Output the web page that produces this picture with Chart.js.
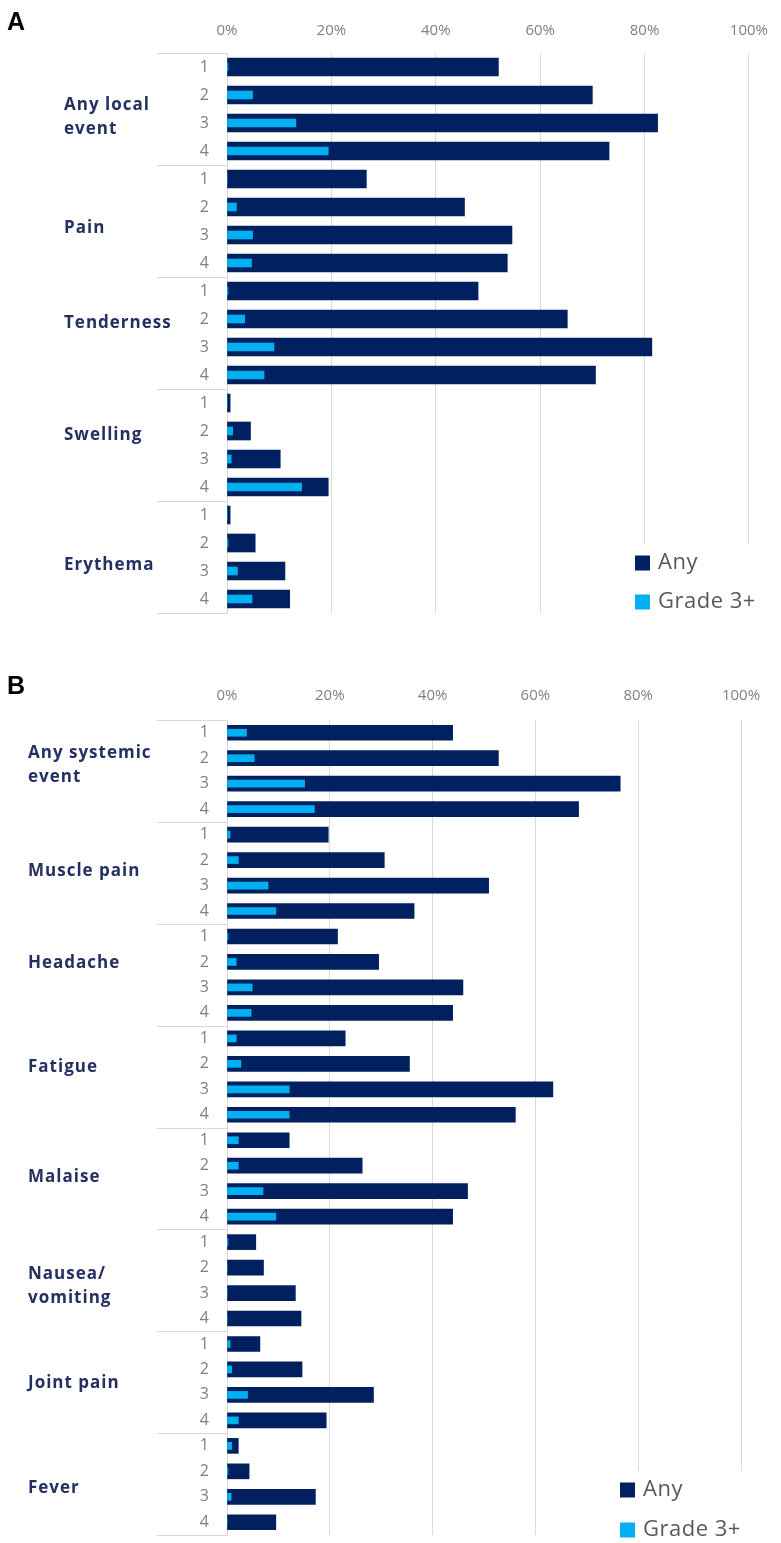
<!DOCTYPE html>
<html><head><meta charset="utf-8">
<script src="https://cdn.jsdelivr.net/npm/chart.js@4.4.1/dist/chart.umd.min.js"></script>
<style>
html,body{margin:0;padding:0;background:#fff;width:781px;height:1543px;overflow:hidden;}
canvas{position:absolute;left:0;}
.letter{position:absolute;left:7px;font:bold 25px "Liberation Sans",Arial,sans-serif;color:#000;line-height:28px;}
</style></head><body>
<canvas id="cA" width="781" height="625" style="top:0"></canvas>
<canvas id="cB" width="781" height="903" style="top:640px"></canvas>
<div class="letter" style="top:7px">A</div>
<div class="letter" style="top:671px">B</div>
<script>
// ---------- DATA ----------
const rowLabels = ['1','2','3','4'];
const seriesNames = ['Any','Grade 3+'];
const xTickValues = [0,20,40,60,80,100];

const localEvents = [['Any local','event'],['Pain'],['Tenderness'],['Swelling'],['Erythema']];
const localAny    = [52.0,70.0,82.5,73.2, 26.7,45.5,54.6,53.7, 48.1,65.2,81.4,70.6, 0.6,4.5,10.2,19.4, 0.6,5.4,11.1,12.0];
const localGrade3 = [0.2,4.9,13.2,19.4, 0,1.8,4.9,4.7, 0.2,3.4,9.0,7.1, 0,1.1,0.8,14.3, 0,0.2,2.0,4.8];

const systemicEvents = [['Any systemic','event'],['Muscle pain'],['Headache'],['Fatigue'],['Malaise'],['Nausea/','vomiting'],['Joint pain'],['Fever']];
const systemicAny    = [43.9,52.8,76.5,68.4, 19.7,30.6,50.9,36.4, 21.5,29.5,45.9,43.9, 23.0,35.5,63.4,56.1, 12.1,26.3,46.8,43.9, 5.6,7.1,13.3,14.4, 6.4,14.6,28.5,19.3, 2.2,4.3,17.2,9.5];
const systemicGrade3 = [3.8,5.3,15.1,17.0, 0.6,2.2,8.0,9.5, 0.2,1.8,4.9,4.7, 1.8,2.7,12.1,12.1, 2.2,2.2,7.0,9.5, 0.2,0,0,0, 0.6,0.9,4.0,2.2, 0.9,0.2,0.8,0];

// ---------- STYLE ----------
const NAVY = '#002060', CYAN = '#00B0F0', GRID = '#d9d9d9', TICK = '#808080', LABEL = '#243061', LEG = '#595959';

function decorPlugin(cfg){
  return {
    id:'decor',
    afterDraw(chart){
      const {ctx, chartArea, scales:{y}} = chart;
      const groups = cfg.groups, n = groups.length;
      ctx.save();
      ctx.strokeStyle = GRID; ctx.lineWidth = 1;
      for(let g=0; g<=n; g++){
        let py;
        if(g===0) py = chartArea.top;
        else if(g===n) py = chartArea.bottom;
        else py = (y.getPixelForValue(g*4-1)+y.getPixelForValue(g*4))/2;
        py = Math.round(py)+0.5;
        ctx.beginPath(); ctx.moveTo(cfg.sepLeft, py); ctx.lineTo(chartArea.left, py); ctx.stroke();
      }
      ctx.fillStyle = LABEL; ctx.font = cfg.labelFont; ctx.textBaseline='middle'; ctx.textAlign='left';
      if('letterSpacing' in ctx) ctx.letterSpacing = '1px';
      groups.forEach((lines,g)=>{
        const c = (y.getPixelForValue(g*4)+y.getPixelForValue(g*4+3))/2 + cfg.offsets[g];
        lines.forEach((t,i)=>ctx.fillText(t, cfg.labelX, c + (i-(lines.length-1)/2)*cfg.lineH));
      });
      // legend
      const L = cfg.legend;
      ctx.fillStyle = '#fff';
      ctx.fillRect(L.box[0], L.box[1], L.box[2], L.box[3]);
      ctx.font = L.font; ctx.textBaseline='middle';
      if('letterSpacing' in ctx) ctx.letterSpacing = '0.5px';
      chart.data.datasets.forEach((ds,i)=>{
        const cy = L.y0 + i*L.gap;
        ctx.fillStyle = ds.backgroundColor;
        ctx.fillRect(L.x, cy - L.sq/2, L.sq, L.sq);
        ctx.fillStyle = LEG;
        ctx.fillText(ds.label, L.x + L.sq + 8, cy);
      });
      ctx.restore();
    }
  };
}

function makeChart(id, groups, anyVals, g3Vals, opt){
  const labels = [];
  groups.forEach(()=>rowLabels.forEach(r=>labels.push(r)));
  return new Chart(document.getElementById(id), {
    type:'bar',
    data:{
      labels,
      datasets:[
        {label:seriesNames[0], data:anyVals, backgroundColor:NAVY, barThickness:opt.thickAny, grouped:false, order:2},
        {label:seriesNames[1], data:g3Vals, backgroundColor:CYAN, barThickness:opt.thickG3, grouped:false, order:1}
      ]
    },
    options:{
      indexAxis:'y', responsive:false, animation:false,
      layout:{padding:opt.padding},
      plugins:{legend:{display:false}, tooltip:{enabled:false}},
      scales:{
        x:{
          position:'top', min:0, max:100,
          afterBuildTicks:s=>{ s.ticks = xTickValues.map(v=>({value:v})); },
          afterFit:s=>{ s.height = opt.xAxisH; },
          grid:{color:GRID, drawTicks:false, lineWidth:1},
          border:{display:false},
          ticks:{color:TICK, padding:opt.xPad, font:{family:'"Open Sans"', size:15}, callback:v=>v+'%'}
        },
        y:{
          afterFit:s=>{ s.width = 227; s.paddingTop = 0; s.paddingBottom = 0; },
          grid:{display:false, drawTicks:false},
          border:{display:true, color:GRID},
          ticks:{color:TICK, padding:18, font:{family:'"Open Sans"', size:16}, autoSkip:false}
        }
      }
    },
    plugins:[decorPlugin(opt.decor)]
  });
}

makeChart('cA', localEvents, localAny, localGrade3, {
  thickAny:18, thickG3:8, padding:{left:0,right:22,top:0,bottom:12}, xAxisH:53, xPad:13,
  decor:{groups:localEvents, sepLeft:157, labelX:64, lineH:24, labelFont:'bold 17px "Open Sans"',
    offsets:[8,7,-10,-10,8],
    legend:{box:[626,544,155,81], x:635, y0:563, gap:39, sq:15, font:'22px "Open Sans"'}}
});
makeChart('cB', systemicEvents, systemicAny, systemicGrade3, {
  thickAny:15, thickG3:7, padding:{left:0,right:40,top:0,bottom:8}, xAxisH:80, xPad:15,
  decor:{groups:systemicEvents, sepLeft:157, labelX:28, lineH:24, labelFont:'bold 17px "Open Sans"',
    offsets:[-6,-2,-12,-9,-1,6,1,4],
    legend:{box:[612,831,169,72], x:620, y0:850, gap:40, sq:15, font:'22px "Open Sans"'}}
});
</script>
</body></html>
